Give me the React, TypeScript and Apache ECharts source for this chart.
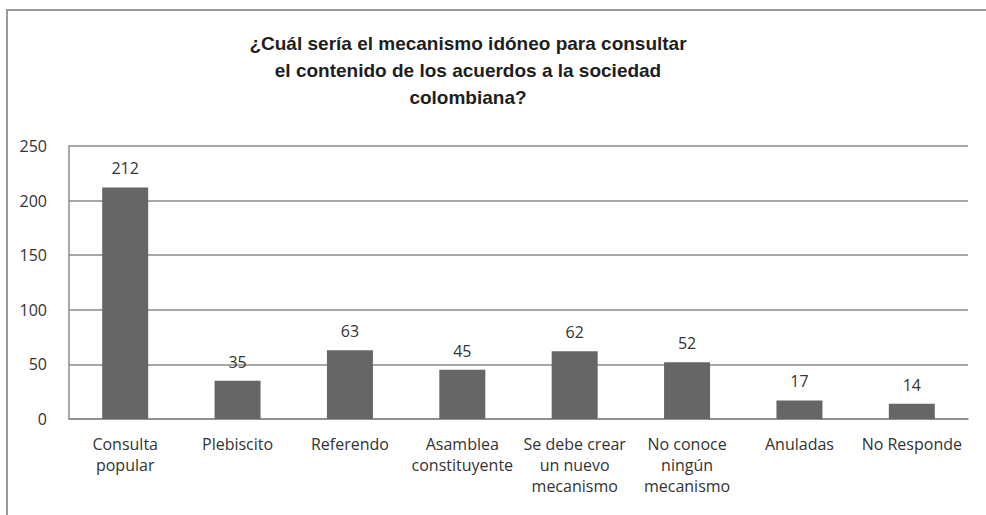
import React, { useEffect, useRef } from "react";
import * as echarts from "echarts";

const titleLines = [
  "¿Cuál sería el mecanismo idóneo para consultar",
  "el contenido de los acuerdos a la sociedad",
  "colombiana?",
];
const categories = [
  "Consulta\npopular",
  "Plebiscito",
  "Referendo",
  "Asamblea\nconstituyente",
  "Se debe crear\nun nuevo\nmecanismo",
  "No conoce\nningún\nmecanismo",
  "Anuladas",
  "No Responde",
];
const values = [212, 35, 63, 45, 62, 52, 17, 14];
const yTicks = { min: 0, max: 250, interval: 50 };

export default function App() {
  const ref = useRef<HTMLDivElement>(null);
  useEffect(() => {
    if (!ref.current) return;
    const chart = echarts.init(ref.current, null, { renderer: "svg" });
    const labelFont = "'Open Sans', sans-serif";
    chart.setOption({
      animation: false,
      backgroundColor: "#ffffff",
      graphic: [
        {
          type: "polyline",
          shape: { points: [[7, 515], [7, 10], [986, 10]] },
          style: { stroke: "#9a9a9a", lineWidth: 2, fill: "none" },
          silent: true,
        },
        {
          type: "text",
          x: 468,
          y: 30,
          style: {
            text: titleLines.join("\n"),
            textAlign: "center",
            textVerticalAlign: "top",
            font: "bold 19px 'Liberation Sans', Arial, sans-serif",
            lineHeight: 27,
            fill: "#1e1e1e",
          },
        },
      ],
      grid: { left: 69, right: 18, top: 146, bottom: 96 },
      xAxis: {
        type: "category",
        data: categories,
        axisLine: { show: true, lineStyle: { color: "#8a8a8a", width: 1.5 } },
        axisTick: { show: false },
        axisLabel: {
          interval: 0,
          margin: 14,
          color: "#333333",
          fontFamily: labelFont,
          fontSize: 16,
          lineHeight: 21,
        },
      },
      yAxis: {
        type: "value",
        min: yTicks.min,
        max: yTicks.max,
        interval: yTicks.interval,
        axisLine: { show: true, lineStyle: { color: "#8a8a8a", width: 1.5 } },
        axisTick: { show: false },
        splitLine: { show: true, lineStyle: { color: "#8a8a8a", width: 1.5 } },
        axisLabel: {
          margin: 22,
          color: "#333333",
          fontFamily: labelFont,
          fontSize: 16,
        },
      },
      series: [
        {
          type: "bar",
          data: values,
          barWidth: 46,
          itemStyle: { color: "#666666" },
          label: {
            show: true,
            position: "top",
            distance: 11,
            color: "#333333",
            fontFamily: labelFont,
            fontSize: 16,
          },
        },
      ],
    });
    return () => chart.dispose();
  }, []);
  return (
    <div
      ref={ref}
      style={{ position: "fixed", left: 0, top: 0, width: 986, height: 515 }}
    />
  );
}
